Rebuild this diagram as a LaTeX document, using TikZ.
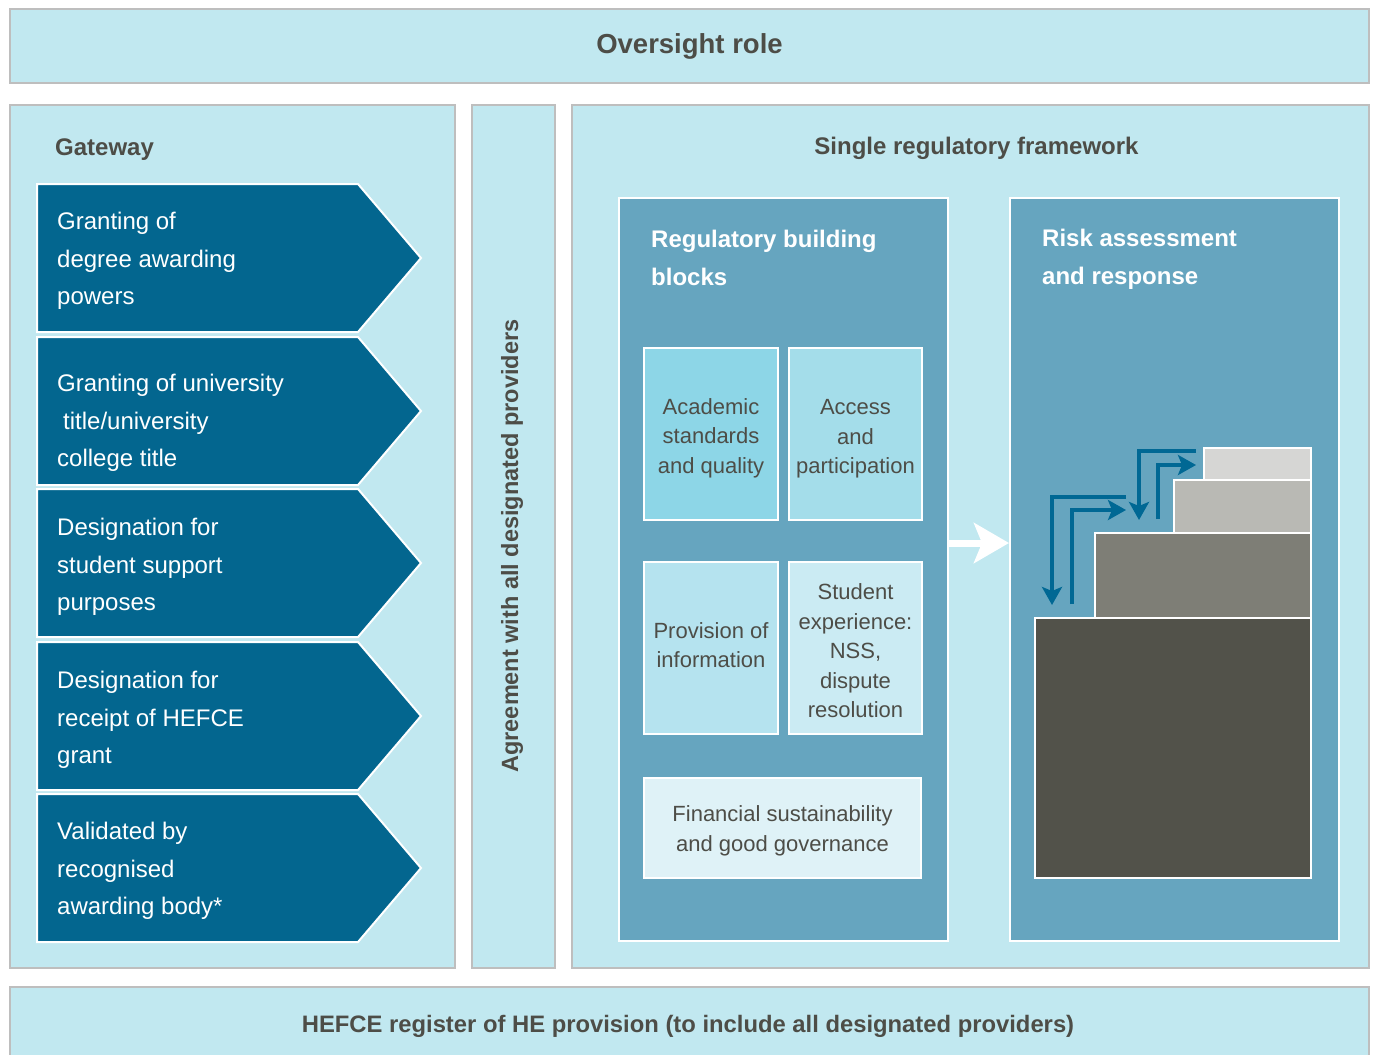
\documentclass[tikz,border=0pt]{standalone}
\usepackage{fontspec}
\setmainfont{Liberation Sans}
\usetikzlibrary{arrows.meta}

\definecolor{panelblue}{HTML}{C1E8F0}
\definecolor{panelgrey}{HTML}{BEBEBE}
\definecolor{chevblue}{HTML}{03668F}
\definecolor{regblue}{HTML}{66A5BF}
\definecolor{acadfill}{HTML}{8DD6E7}
\definecolor{accessfill}{HTML}{A4DDEA}
\definecolor{provfill}{HTML}{B5E3EF}
\definecolor{studfill}{HTML}{CBEBF3}
\definecolor{finfill}{HTML}{DFF2F7}
\definecolor{inkgrey}{HTML}{4D4D47}
\definecolor{stairA}{HTML}{52524A}
\definecolor{stairB}{HTML}{7E7E76}
\definecolor{stairC}{HTML}{B9B9B4}
\definecolor{stairD}{HTML}{D6D6D4}
\definecolor{flowblue}{HTML}{006894}

\begin{document}
\begin{tikzpicture}[x=1pt,y=-1pt,
  panel/.style={draw=panelgrey, line width=2pt, fill=panelblue, inner sep=0pt, anchor=north west},
  chevron/.style={draw=white, line width=2pt, fill=chevblue, line join=miter},
  chevtext/.style={anchor=west, align=left, inner sep=0pt, text=white,
    font=\fontsize{24}{37.5}\selectfont},
  headtext/.style={inner sep=0pt, text=inkgrey, font=\bfseries\fontsize{24}{30}\selectfont},
  group/.style={draw=white, line width=2pt, fill=regblue, inner sep=0pt, anchor=north west},
  grouptitle/.style={anchor=west, align=left, inner sep=0pt, text=white,
    font=\bfseries\fontsize{24}{38}\selectfont},
  block/.style={draw=white, line width=2pt, inner sep=0pt},
  blocktext/.style={inner sep=0pt, align=center, text=inkgrey,
    font=\fontsize{22}{29.5}\selectfont},
  stair/.style={draw=white, line width=2pt, inner sep=0pt},
  flow/.style={draw=flowblue, line width=4pt, line join=miter,
    -{Stealth[length=18pt,width=20pt,inset=4pt]}}
]
\useasboundingbox (0,0) rectangle (1375,1054);
\clip (0,0) rectangle (1375,1054);

% outer panels
\node[panel, minimum width=1359pt, minimum height=74pt, text=inkgrey,
  font=\bfseries\fontsize{27.5}{32}\selectfont] (oversight) at (9,8) {Oversight role};
\node[panel, minimum width=445pt, minimum height=863pt] (gatepanel) at (9,104) {};
\node[panel, minimum width=83pt, minimum height=863pt] (agreepanel) at (471,104) {};
\node[panel, minimum width=797pt, minimum height=863pt] (srfpanel) at (571,104) {};
\node[panel, minimum width=1359pt, minimum height=90pt] (registerpanel) at (9,986) {};

\node[headtext, anchor=base west] (gatetitle) at (55,155) {Gateway};
\node[headtext, anchor=base] (srftitle) at (976.5,154) {Single regulatory framework};
\node[headtext, rotate=90, font=\bfseries\fontsize{23.5}{30}\selectfont] (agreetext) at (512,546)
  {Agreement with all designated providers};
\node[headtext, font=\bfseries\fontsize{23.8}{30}\selectfont] (registertext) at (688,1026)
  {HEFCE register of HE provision (to include all designated providers)};

% gateway chevrons
\foreach \t/\c/\n/\txt in {
  184/261/g1/{Granting of\\degree awarding\\powers},
  337/423/g2/{Granting of university\\\hspace*{6pt}title/university\\college title},
  489/567/g3/{Designation for\\student support\\purposes},
  642/720/g4/{Designation for\\receipt of HEFCE\\grant},
  794/871/g5/{Validated by\\recognised\\awarding body*}}{
  \draw[chevron] (37,\t) -- (358,\t) -- (421,\t+74) -- (358,\t+148) -- (37,\t+148) -- cycle;
  \node[chevtext] (\n) at (57,\c) {\txt};
}

% regulatory building blocks
\node[group, minimum width=329pt, minimum height=743pt] (blocks) at (618,197) {};
\node[grouptitle] (blockstitle) at (651,258) {Regulatory building\\blocks};
\node[block, fill=acadfill, minimum width=134pt, minimum height=172pt] (acad) at (711,434) {};
\node[block, fill=accessfill, minimum width=133pt, minimum height=172pt] (access) at (855.5,434) {};
\node[block, fill=provfill, minimum width=134pt, minimum height=172pt] (prov) at (711,648) {};
\node[block, fill=studfill, minimum width=133pt, minimum height=172pt] (stud) at (855.5,648) {};
\node[block, fill=finfill, minimum width=277pt, minimum height=100pt] (fin) at (782.5,828) {};

\node[blocktext] (acadtext) at ([yshift=-4pt]acad.center) {Academic\\standards\\and quality};
\node[blocktext] (accesstext) at ([yshift=-5pt]access.center) {Access\\and\\participation};
\node[blocktext] (provtext) at ([yshift=3pt]prov.center) {Provision of\\information};
\node[blocktext] (studtext) at ([yshift=-3pt]stud.center) {Student\\experience:\\NSS,\\dispute\\resolution};
\node[blocktext] (fintext) at ([yshift=-3pt]fin.center) {Financial sustainability\\and good governance};

% risk assessment and response
\node[group, minimum width=329pt, minimum height=743pt] (risk) at (1009,197) {};
\node[grouptitle] (risktitle) at (1042,259) {Risk assessment\\and response};

\draw[white, line width=7pt, -{Stealth[length=35pt,width=40pt,inset=8pt]}]
  (blocks.east |- 0,543) -- (risk.west |- 0,543);

% staircase of risk levels
\node[stair, fill=stairD, minimum width=107pt, minimum height=32pt] (lvl4) at (1257.5,464) {};
\node[stair, fill=stairC, minimum width=137pt, minimum height=53pt] (lvl3) at (1242.5,506.5) {};
\node[stair, fill=stairB, minimum width=216pt, minimum height=85pt] (lvl2) at (1203,575.5) {};
\node[stair, fill=stairA, minimum width=276pt, minimum height=260pt] (lvl1) at (1173,748) {};

\coordinate (aS) at (1126,497);
\coordinate (aE) at (1052,605);
\coordinate (bS) at (1072,604);
\coordinate (bE) at (1126,510);
\coordinate (cS) at (1196,451);
\coordinate (cE) at (1139,520);
\coordinate (dS) at (1158,519);
\coordinate (dE) at (1196,465);
\draw[flow] (aS) -| (aE);
\draw[flow] (bS) |- (bE);
\draw[flow] (cS) -| (cE);
\draw[flow] (dS) |- (dE);
\end{tikzpicture}
\end{document}
